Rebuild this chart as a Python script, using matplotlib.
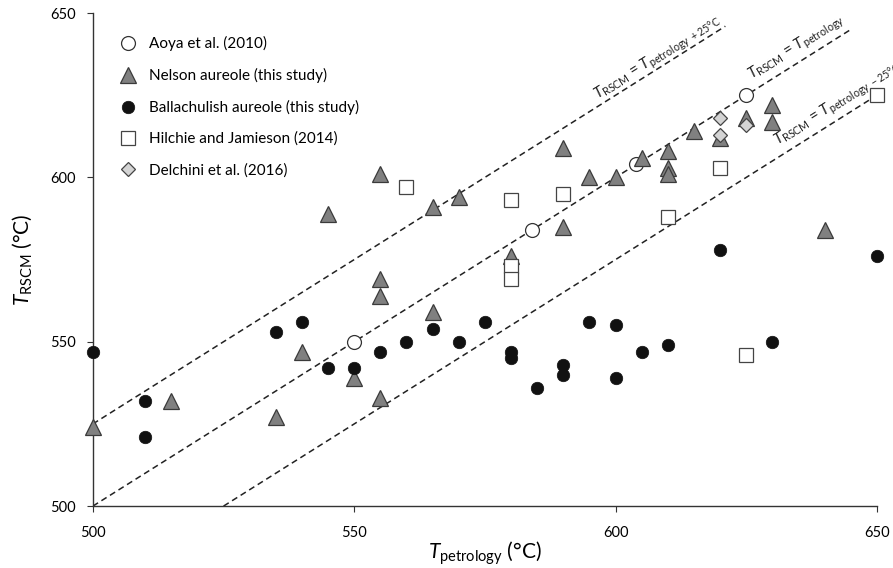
import numpy as np
import matplotlib
matplotlib.use('Agg')
import matplotlib.pyplot as plt

plt.rcParams['font.family'] = ['Lato', 'DejaVu Sans']
plt.rcParams['mathtext.fontset'] = 'custom'
plt.rcParams['mathtext.rm'] = 'Lato'
plt.rcParams['mathtext.it'] = 'Lato:italic'

# data (deg C)
aoya_x = [550, 584, 604, 625]
aoya_y = [550, 584, 604, 625]

nelson_x = [500, 515, 535, 540, 550, 555, 555, 555, 555, 545, 565, 565, 570, 580,
            590, 590, 595, 600, 605, 610, 610, 610, 615, 620, 625, 630, 630, 640]
nelson_y = [524, 532, 527, 547, 539, 533, 601, 569, 564, 589, 559, 591, 594, 576,
            585, 609, 600, 600, 606, 608, 603, 601, 614, 612, 618, 622, 617, 584]

ball_x = [500, 510, 510, 535, 540, 545, 550, 555, 560, 565, 570, 575, 580, 580,
          585, 590, 590, 595, 600, 600, 605, 610, 620, 630, 650]
ball_y = [547, 532, 521, 553, 556, 542, 542, 547, 550, 554, 550, 556, 547, 545,
          536, 543, 540, 556, 555, 539, 547, 549, 578, 550, 576]

hilchie_x = [560, 580, 580, 580, 590, 610, 620, 625, 650]
hilchie_y = [597, 593, 573, 569, 595, 588, 603, 546, 625]

delchini_x = [620, 620, 625]
delchini_y = [618, 613, 616]

ticks = [500, 550, 600, 650]

# reference lines: offset, x start, x end
ref_lines = [(25, 500, 621), (0, 500, 645), (-25, 525, 650)]
ref_labels = [r'$T_{\mathrm{RSCM}}$ = $T_{\mathrm{petrology\ +25°C}}$',
              r'$T_{\mathrm{RSCM}}$ = $T_{\mathrm{petrology}}$',
              r'$T_{\mathrm{RSCM}}$ = $T_{\mathrm{petrology\ -25°C}}$']
label_pos = [(608.0, 636.5), (634.7, 639.5), (642.5, 622.5)]

fig = plt.figure(figsize=(8.93, 5.68), dpi=100)
ax = fig.add_axes([0.104, 0.109, 0.878, 0.868])
ax.set_xlim(500, 650)
ax.set_ylim(500, 650)

for off, x0, x1 in ref_lines:
    xs = np.array([x0, x1])
    ax.plot(xs, xs + off, color='#222222', lw=1.1, dashes=(4, 2.6), zorder=1)

ang = ax.transData.transform_angles(np.array([45.0]), np.array([[575.0, 575.0]]))[0]
for txt, (lx, ly) in zip(ref_labels, label_pos):
    ax.text(lx, ly, txt, rotation=ang, ha='center', va='center',
            rotation_mode='anchor', fontsize=11, color='#222222')

ax.plot(aoya_x, aoya_y, 'o', ms=10, mfc='white', mec='#333333', mew=0.9,
        label='Aoya et al. (2010)', clip_on=False, zorder=3)
ax.plot(nelson_x, nelson_y, '^', ms=11, mfc='#808080', mec='#3a3a3a', mew=0.9,
        label='Nelson aureole (this study)', clip_on=False, zorder=4)
ax.plot(ball_x, ball_y, 'o', ms=9, mfc='#111111', mec='#111111', mew=0.5,
        label='Ballachulish aureole (this study)', clip_on=False, zorder=5)
ax.plot(hilchie_x, hilchie_y, 's', ms=10, mfc='white', mec='#444444', mew=0.9,
        label='Hilchie and Jamieson (2014)', clip_on=False, zorder=4)
ax.plot(delchini_x, delchini_y, 'D', ms=7.5, mfc='#d4d4d4', mec='#444444', mew=0.9,
        label='Delchini et al. (2016)', clip_on=False, zorder=6)

ax.legend(loc='upper left', bbox_to_anchor=(0.018, 0.978), frameon=False,
          fontsize=11, labelspacing=1.1, handletextpad=0.75,
          handlelength=1.2, borderpad=0.3)

for s in ['top', 'right']:
    ax.spines[s].set_visible(False)
for s in ['left', 'bottom']:
    ax.spines[s].set_color('#333333')
    ax.spines[s].set_linewidth(1.0)

ax.set_xticks(ticks)
ax.set_yticks(ticks)
ax.tick_params(axis='x', direction='out', length=4, pad=10, labelsize=10.5, color='#333333')
ax.tick_params(axis='y', direction='out', length=4, pad=8, labelsize=10.5, color='#333333')

ax.set_xlabel(r'$T_{\mathrm{petrology}}$ (°C)', fontsize=15, labelpad=0)
ax.set_ylabel(r'$T_{\mathrm{RSCM}}$ (°C)', fontsize=15, labelpad=12)

fig.savefig('out.png', dpi=100)
